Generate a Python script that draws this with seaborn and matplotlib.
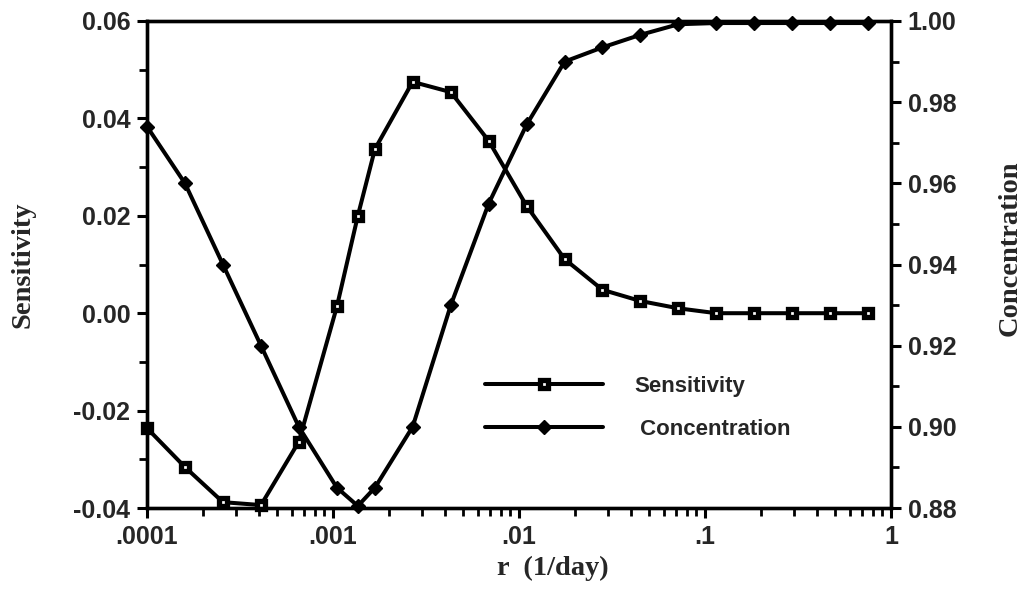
import matplotlib
matplotlib.use("Agg")
import matplotlib.pyplot as plt
import numpy as np
import pandas as pd
import seaborn as sns
from matplotlib.lines import Line2D
from matplotlib.ticker import FixedLocator, MultipleLocator, LogLocator, NullFormatter

# ---- data ----
r_values = [0.0001, 0.00016, 0.000256, 0.00041, 0.000655, 0.00105, 0.00136,
            0.00168, 0.00268, 0.0043, 0.00687, 0.011, 0.0176, 0.0281, 0.045,
            0.072, 0.115, 0.184, 0.295, 0.472, 0.755]
sensitivity = [-0.0236, -0.0316, -0.0388, -0.0394, -0.0264, 0.0014, 0.0200,
               0.0337, 0.0475, 0.0454, 0.0354, 0.0220, 0.0111, 0.0048, 0.0025,
               0.0010, 0.0000, 0.0000, 0.0000, 0.0000, 0.0000]
concentration = [0.974, 0.960, 0.940, 0.920, 0.900, 0.885, 0.8805, 0.885,
                 0.900, 0.930, 0.955, 0.9745, 0.990, 0.9935, 0.9966, 0.9992,
                 0.9995, 0.9995, 0.9995, 0.9995, 0.9995]

x_ticks = [0.0001, 0.001, 0.01, 0.1, 1]
x_tick_labels = [".0001", ".001", ".01", ".1", "1"]
left_ticks = [-0.04, -0.02, 0.00, 0.02, 0.04, 0.06]
left_tick_labels = ["-0.04", "-0.02", "0.00", "0.02", "0.04", "0.06"]
right_ticks = [0.88, 0.90, 0.92, 0.94, 0.96, 0.98, 1.00]
right_tick_labels = ["0.88", "0.90", "0.92", "0.94", "0.96", "0.98", "1.00"]

df = pd.DataFrame({"r": r_values, "Sensitivity": sensitivity,
                   "Concentration": concentration})

sns.set_style("ticks")
plt.rcParams["font.family"] = ["Liberation Sans", "DejaVu Sans"]

W, H = 1027, 589
fig = plt.figure(figsize=(W / 100, H / 100), dpi=100)
L, R, T, B = 147, 891, 21, 508
ax = fig.add_axes([L / W, 1 - B / H, (R - L) / W, (B - T) / H])
ax.set_xscale("log")

lw = 2.9
sq = dict(marker="s", markersize=5.8, markerfacecolor="white",
          markeredgecolor="black", markeredgewidth=3.8)
dm = dict(marker="D", markersize=6.8, markerfacecolor="black",
          markeredgecolor="black", markeredgewidth=1)
sns.lineplot(data=df, x="r", y="Sensitivity", ax=ax, color="black",
             linewidth=lw, clip_on=False, zorder=3, **sq)
ax2 = ax.twinx()
sns.lineplot(data=df, x="r", y="Concentration", ax=ax2, color="black",
             linewidth=lw, clip_on=False, zorder=3, **dm)

ax.set_xlim(1e-4, 1)
ax.set_ylim(-0.04, 0.06)
ax2.set_ylim(0.88, 1.00)

ax.xaxis.set_major_locator(FixedLocator(x_ticks))
ax.set_xticklabels(x_tick_labels)
ax.xaxis.set_minor_locator(LogLocator(base=10, subs=np.arange(2, 10)))
ax.xaxis.set_minor_formatter(NullFormatter())

ax.set_yticks(left_ticks)
ax.set_yticklabels(left_tick_labels)
ax.yaxis.set_minor_locator(MultipleLocator(0.01))
ax2.set_yticks(right_ticks)
ax2.set_yticklabels(right_tick_labels)
ax2.yaxis.set_minor_locator(MultipleLocator(0.01))

ax.set_xlabel("")
ax.set_ylabel("")
ax2.set_ylabel("")

tick_font = 18
for a in (ax, ax2):
    a.tick_params(which="major", direction="out", length=7, width=2.2,
                  labelsize=tick_font, pad=5, color="black")
    a.tick_params(which="minor", direction="out", length=5.5, width=2,
                  color="black")
    for s in a.spines.values():
        s.set_linewidth(2.4)
        s.set_color("black")
        s.set_visible(True)
for lab in ax.get_xticklabels() + ax.get_yticklabels() + ax2.get_yticklabels():
    lab.set_fontweight("bold")

label_font = dict(family=["Liberation Serif", "DejaVu Serif"],
                  weight="bold", size=20.5)
fig.text(553 / W, 1 - 568 / H, "r  (1/day)", ha="center", va="center",
         **label_font)
fig.text(23 / W, 1 - 265 / H, "Sensitivity", ha="center", va="center",
         rotation=90, **label_font)
fig.text(1010 / W, 1 - 248 / H, "Concentration", ha="center", va="center",
         rotation=90, **label_font)

handles = [
    Line2D([], [], color="black", linewidth=lw, **sq),
    Line2D([], [], color="black", linewidth=lw, **dm),
]
ax2.legend(handles, ["Sensitivity", " Concentration"], loc="upper left",
           bbox_to_anchor=(485 / W, 1 - 376 / H),
           bbox_transform=fig.transFigure, frameon=False,
           handlelength=5.3, handletextpad=1.4, labelspacing=1.0,
           borderpad=0, borderaxespad=0,
           prop=dict(size=16, weight="bold"))
leg0 = ax.get_legend()
if leg0 is not None:
    leg0.remove()

fig.savefig("out.png", dpi=100)
